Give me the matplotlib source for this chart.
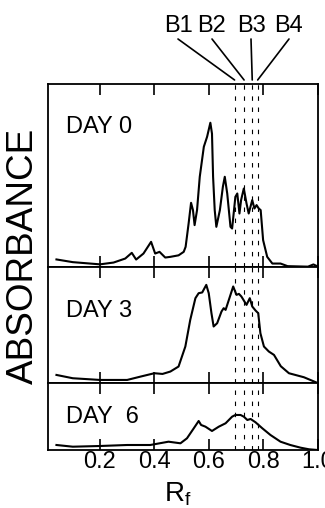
import matplotlib
matplotlib.use('Agg')
import matplotlib.pyplot as plt

plt.rcParams['font.family'] = ['Liberation Sans', 'DejaVu Sans']
plt.rcParams['mathtext.fontset'] = 'custom'
plt.rcParams['mathtext.rm'] = 'Liberation Sans'

# densitometer traces (absorbance, arbitrary units)
rf_day0 = [0.04, 0.10, 0.20, 0.25, 0.293, 0.317, 0.333, 0.36, 0.388, 0.403, 0.419, 0.44,
           0.459, 0.489, 0.508, 0.515, 0.526, 0.535, 0.542, 0.548, 0.557, 0.567, 0.582,
           0.594, 0.606, 0.612, 0.616, 0.622, 0.628, 0.641, 0.652, 0.659, 0.668, 0.68,
           0.686, 0.698, 0.705, 0.713, 0.719, 0.729, 0.739, 0.747, 0.76, 0.768, 0.776,
           0.784, 0.791, 0.80, 0.815, 0.834, 0.864, 0.89, 0.965, 0.985, 1.0]
abs_day0 = [0.074, 0.047, 0.025, 0.043, 0.083, 0.14, 0.073, 0.133, 0.25, 0.133, 0.15, 0.093,
            0.10, 0.115, 0.15, 0.20, 0.433, 0.64, 0.567, 0.417, 0.567, 0.90, 1.20,
            1.30, 1.44, 1.33, 0.90, 0.567, 0.40, 0.567, 0.80, 0.90, 0.733, 0.40,
            0.383, 0.70, 0.733, 0.533, 0.667, 0.783, 0.633, 0.533, 0.667, 0.583, 0.617,
            0.583, 0.567, 0.267, 0.10, 0.033, 0.033, 0.007, 0.002, 0.024, 0.005]

rf_day3 = [0.04, 0.10, 0.20, 0.30, 0.35, 0.40, 0.43, 0.459, 0.489, 0.514, 0.532, 0.551,
           0.563, 0.576, 0.591, 0.60, 0.61, 0.618, 0.631, 0.647, 0.655, 0.662, 0.674,
           0.69, 0.702, 0.711, 0.72, 0.739, 0.751, 0.76, 0.772, 0.782, 0.79, 0.803,
           0.821, 0.84, 0.865, 0.895, 0.95, 1.0]
abs_day3 = [0.083, 0.05, 0.033, 0.033, 0.067, 0.10, 0.093, 0.117, 0.167, 0.367, 0.633, 0.85,
            0.90, 0.907, 0.983, 0.90, 0.70, 0.567, 0.60, 0.717, 0.75, 0.733, 0.833,
            0.967, 0.883, 0.893, 0.867, 0.783, 0.85, 0.767, 0.727, 0.70, 0.50, 0.367,
            0.317, 0.283, 0.17, 0.10, 0.06, 0.003]

rf_day6 = [0.04, 0.10, 0.20, 0.30, 0.385, 0.452, 0.496, 0.52, 0.545, 0.563, 0.572, 0.588,
           0.612, 0.637, 0.662, 0.686, 0.698, 0.717, 0.729, 0.742, 0.754, 0.772, 0.797,
           0.827, 0.864, 0.90, 0.938, 0.969, 1.0]
abs_day6 = [0.05, 0.033, 0.04, 0.05, 0.05, 0.083, 0.067, 0.117, 0.217, 0.29, 0.25, 0.233,
            0.19, 0.233, 0.267, 0.333, 0.35, 0.35, 0.333, 0.30, 0.31, 0.277, 0.217,
            0.15, 0.083, 0.05, 0.023, 0.007, 0.0]

panels = ['DAY 0', 'DAY 3', 'DAY  6']
panel_ymax = [1.827, 1.163, 0.667]
band_labels = ['B1', 'B2', 'B3', 'B4']
band_rf = [0.695, 0.73, 0.76, 0.78]
band_label_x = [178, 212, 251, 289]   # label centres, figure pixels
xticks = [0.2, 0.4, 0.6, 0.8, 1.0]
xtick_labels = ['0.2', '0.4', '0.6', '0.8', '1.0']

W, H = 325, 508
fig, axes = plt.subplots(3, 1, figsize=(W / 100, H / 100), dpi=100, sharex=True,
                         gridspec_kw={'height_ratios': panel_ymax, 'hspace': 0})
fig.subplots_adjust(left=48.3 / W, right=317.5 / W, top=1 - 84 / H, bottom=1 - 450 / H)

curves = [(rf_day0, abs_day0), (rf_day3, abs_day3), (rf_day6, abs_day6)]
label_y = [0.732, 0.573, 0.405]
for ax, (x, y), name, ymax, ly in zip(axes, curves, panels, panel_ymax, label_y):
    ax.plot(x, y, color='black', lw=1.5, solid_joinstyle='round')
    for b in band_rf:
        ax.axvline(b, color='black', lw=0.8, linestyle=(0, (4, 6)))
    ax.set_xlim(0.01, 1.0)
    ax.set_ylim(0, ymax)
    ax.set_yticks([])
    ax.tick_params(axis='x', direction='in', top=True, bottom=True, length=8,
                   width=1.2, labelbottom=False)
    for s in ax.spines.values():
        s.set_linewidth(1.3)
    ax.text(0.066, ly, name, transform=ax.transAxes, fontsize=17, va='baseline')

axes[-1].set_xticks(xticks)
axes[-1].set_xticklabels(xtick_labels)
axes[-1].tick_params(axis='x', labelbottom=True, labelsize=17, pad=1)

# band labels with leader lines to the dashed lines
for lab, b, tx in zip(band_labels, band_rf, band_label_x):
    fig.text(tx / W, 1 - 25.5 / H, lab, fontsize=17, ha='center', va='center')
    axes[0].annotate('', xy=(b, 1.022), xycoords=('data', 'axes fraction'),
                     xytext=(tx / W, 1 - 39 / H), textcoords='figure fraction',
                     arrowprops=dict(arrowstyle='-', lw=1.2, shrinkA=0, shrinkB=0),
                     annotation_clip=False)

fig.text(23 / W, 1 - 256 / H, 'ABSORBANCE', rotation=90, fontsize=26.6,
         ha='center', va='center')
fig.text(178 / W, 7 / H, r'R$_\mathrm{f}$', fontsize=20, ha='center', va='baseline')

fig.savefig('out.png', dpi=100)
